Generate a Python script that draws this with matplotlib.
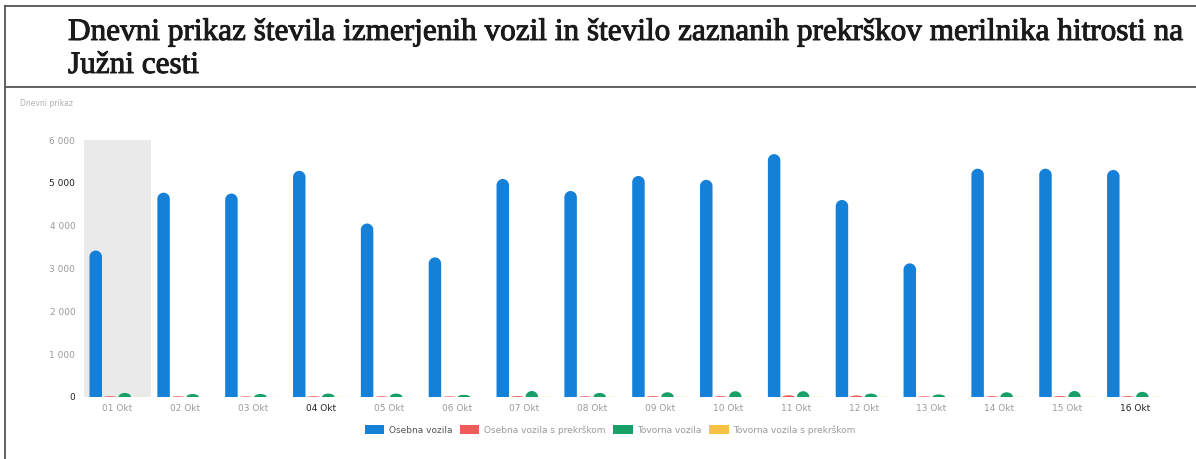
import numpy as np
import matplotlib.pyplot as plt
import matplotlib.patheffects as pe
from matplotlib.path import Path
from matplotlib.patches import PathPatch, Patch, Rectangle
from matplotlib.lines import Line2D
from matplotlib.ticker import FuncFormatter

# podatki po dnevih
dnevi = ["01 Okt", "02 Okt", "03 Okt", "04 Okt", "05 Okt", "06 Okt", "07 Okt", "08 Okt",
         "09 Okt", "10 Okt", "11 Okt", "12 Okt", "13 Okt", "14 Okt", "15 Okt", "16 Okt"]
osebna = [3420, 4770, 4750, 5280, 4050, 3260, 5090, 4810,
          5160, 5070, 5670, 4600, 3120, 5330, 5330, 5300]
osebna_prekrsek = [20, 18, 15, 20, 18, 15, 22, 18, 20, 20, 40, 35, 18, 20, 22, 20]
tovorna = [95, 70, 70, 80, 80, 50, 140, 95, 110, 135, 135, 80, 60, 110, 140, 120]
tovorna_prekrsek = [3, 2, 2, 3, 2, 2, 4, 3, 3, 3, 4, 3, 2, 3, 4, 3]

serije = [
    ("Osebna vozila", osebna, "#1580d8"),
    ("Osebna vozila s prekrškom", osebna_prekrsek, "#ef5b5b"),
    ("Tovorna vozila", tovorna, "#17a068"),
    ("Tovorna vozila s prekrškom", tovorna_prekrsek, "#f7c244"),
]

W, H = 1196, 459
fig = plt.figure(figsize=(W / 100, H / 100), dpi=100)


def fx(x):
    return x / W


def fy(y):
    return 1 - y / H


ax = fig.add_axes([fx(83.6), fy(397), fx(1169) - fx(83.6), fy(140) - fy(397)])
ymax = 6000
ax.set_xlim(-0.5, len(dnevi) - 0.5)
ax.set_ylim(0, ymax)

# polmer zaobljenja v podatkovnih enotah (okoli 6 px)
r_y = 6.2 / 257 * ymax
k = 0.5523


def zaobljen_stolpec(ax, x, v, w, color):
    if v <= 0:
        return
    rx = w / 2
    ry = min(r_y, v)
    x0, x1 = x - rx, x + rx
    verts = [(x0, 0), (x0, v - ry),
             (x0, v - ry + k * ry), (x - rx + rx * (1 - k), v), (x, v),
             (x + rx * k, v), (x1, v - ry + k * ry), (x1, v - ry),
             (x1, 0), (x0, 0)]
    codes = [Path.MOVETO, Path.LINETO,
             Path.CURVE4, Path.CURVE4, Path.CURVE4,
             Path.CURVE4, Path.CURVE4, Path.CURVE4,
             Path.LINETO, Path.CLOSEPOLY]
    ax.add_patch(PathPatch(Path(verts, codes), facecolor=color, edgecolor="none"))


# označen prvi dan
ax.add_patch(Rectangle((-0.5, 0), 1, ymax, facecolor="#eaeaea", edgecolor="none", zorder=0))

korak = 0.214
sirina = 0.184
x = np.arange(len(dnevi))
for i, (ime, vrednosti, barva) in enumerate(serije):
    odmik = (i - 1.5) * korak
    for xi, v in zip(x, vrednosti):
        zaobljen_stolpec(ax, xi + odmik, v, sirina, barva)

for s in ax.spines.values():
    s.set_visible(False)

ax.set_xticks(x)
ax.set_xticklabels(dnevi)
ax.set_yticks(np.arange(0, ymax + 1, 1000))
ax.yaxis.set_major_formatter(FuncFormatter(lambda v, p: f"{int(v):,}".replace(",", " ")))
ax.tick_params(length=0, labelsize=6.5, colors="#9a9a9a")
ax.tick_params(axis="y", pad=6)
ax.tick_params(axis="x", pad=5)
for lab in ax.get_yticklabels():
    if lab.get_text() in ("0", "5 000"):
        lab.set_color("#222222")
for lab in ax.get_xticklabels():
    if lab.get_text() in ("04 Okt", "16 Okt"):
        lab.set_color("#222222")

# legenda
rocaji = [Patch(facecolor=b, edgecolor="none", label=ime) for ime, _, b in serije]
leg = fig.legend(handles=rocaji, loc="center", bbox_to_anchor=(fx(610), fy(430)), ncol=4,
                 frameon=False, fontsize=6.5, handlelength=2.2, handleheight=1.1,
                 handletextpad=0.5, columnspacing=0.8)
for t in leg.get_texts():
    t.set_color("#9a9a9a")
leg.get_texts()[0].set_color("#555555")

fig.text(fx(20), fy(103), "Dnevni prikaz", fontsize=5.5, color="#b0b0b0", va="center")

# naslov in okvir
krepko = [pe.withStroke(linewidth=0.7, foreground="#1a1a1a")]
fig.text(fx(68), fy(40), "Dnevni prikaz števila izmerjenih vozil in število zaznanih prekrškov merilnika hitrosti na",
         family="Liberation Serif", fontsize=22.5, color="#1a1a1a", va="baseline", path_effects=krepko)
fig.text(fx(68), fy(73), "Južni cesti",
         family="Liberation Serif", fontsize=22.5, color="#1a1a1a", va="baseline", path_effects=krepko)

for (x0, y0, x1, y1) in [(5, 6, W, 6), (5, 87, W, 87), (5, 6, 5, H)]:
    fig.add_artist(Line2D([fx(x0), fx(x1)], [fy(y0), fy(y1)], color="#555555", linewidth=1.3))

fig.savefig("out.png", dpi=100)
